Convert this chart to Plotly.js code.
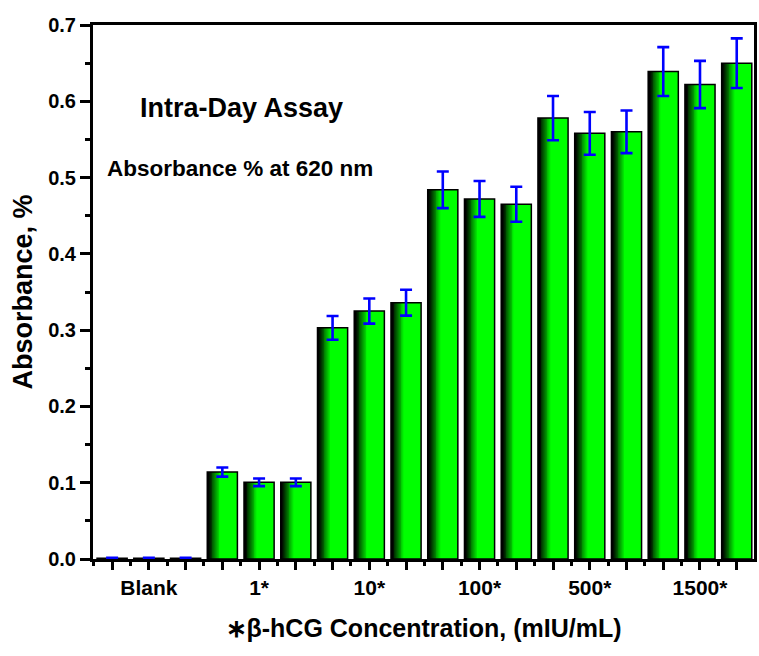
<!DOCTYPE html>
<html>
<head>
<meta charset="utf-8">
<script src="https://cdn.plot.ly/plotly-3.0.1.min.js"></script>
<style>html,body{margin:0;padding:0;background:#fff;}#chart{width:759px;height:656px;}</style>
</head>
<body>
<div id="chart"></div>
<script>
// ---- data ----
const barIndex = [0,1,2,3,4,5,6,7,8,9,10,11,12,13,14,15,16,17];
const groupLabels = ['Blank','1*','10*','100*','500*','1500*'];
const tickText = ['', 'Blank', '', '', '1*', '', '', '10*', '', '', '100*', '', '', '500*', '', '', '1500*', ''];
const absorbance = [0.001,0.001,0.001, 0.114,0.1005,0.1005, 0.303,0.325,0.336, 0.484,0.472,0.465, 0.578,0.558,0.560, 0.639,0.622,0.650];
const absErr = [0.0005,0.0005,0.0005, 0.006,0.005,0.005, 0.0155,0.0165,0.017, 0.024,0.0235,0.023, 0.029,0.028,0.028, 0.032,0.031,0.0325];

// ---- styles ----
const FONT = 'Arial, "Liberation Sans", Helvetica, sans-serif';
const W = 0.82;          // bar width (axis units)
const GRAD_FRAC = 0.46;  // fraction of bar width with black->green gradient
const NS = 16;           // gradient slices

const traces = [];
// base green bar
traces.push({
  type: 'bar', x: barIndex, y: absorbance, width: W,
  marker: {color: '#00ff00', line: {width: 0}},
  hoverinfo: 'skip', showlegend: false
});
// gradient slices (left part of each bar)
const sw = W * GRAD_FRAC / NS;
for (let i = 0; i < NS; i++) {
  const p = (i + 0.5) / NS * GRAD_FRAC;          // position across bar
  let g = (p - 0.05) / 0.38; g = Math.max(0, Math.min(1, g));
  const col = 'rgb(0,' + Math.round(255 * g) + ',0)';
  traces.push({
    type: 'bar', x: barIndex, y: absorbance,
    width: sw * 1.35, offset: -W / 2 + i * sw,
    marker: {color: col, line: {width: 0}},
    hoverinfo: 'skip', showlegend: false
  });
}
// outline + error bars
traces.push({
  type: 'bar', x: barIndex, y: absorbance, width: W,
  marker: {color: 'rgba(0,0,0,0)', line: {color: '#000', width: 1.5}},
  error_y: {type: 'data', array: absErr, visible: true, color: '#0000ff', thickness: 2.6, width: 6},
  showlegend: false
});

const layout = {
  width: 759, height: 656,
  margin: {l: 93, r: 5, t: 25, b: 97},
  paper_bgcolor: '#fff', plot_bgcolor: '#fff',
  barmode: 'overlay',
  bargap: 0,
  font: {family: FONT, color: '#000', weight: 'bold'},
  xaxis: {
    range: [-0.52, 17.47],
    tickmode: 'array', tickvals: barIndex, ticktext: tickText,
    ticks: 'outside', ticklen: 8, tickwidth: 3, tickcolor: '#000',
    minor: {tickmode: 'linear', tick0: 0.5, dtick: 1, ticks: 'outside', ticklen: 4, tickwidth: 3, tickcolor: '#000'},
    tickfont: {family: FONT, size: 21, color: '#000', weight: 'bold'},
    showline: true, linecolor: '#000', linewidth: 3, mirror: true,
    showgrid: false, zeroline: false, fixedrange: true,
    title: {text: '\u2217\u03b2-hCG Concentration, (mIU/mL)', font: {family: FONT, size: 25, color: '#000', weight: 'bold'}, standoff: 22}
  },
  yaxis: {
    range: [0, 0.7], tickmode: 'linear', tick0: 0, dtick: 0.1, tickformat: '.1f',
    ticks: 'outside', ticklen: 10, tickwidth: 3, tickcolor: '#000',
    minor: {dtick: 0.05, ticks: 'outside', ticklen: 5, tickwidth: 3, tickcolor: '#000'},
    tickfont: {family: FONT, size: 20, color: '#000', weight: 'bold'},
    showline: true, linecolor: '#000', linewidth: 3, mirror: true,
    showgrid: false, zeroline: false, fixedrange: true,
    title: {text: 'Absorbance, %', font: {family: FONT, size: 27, color: '#000', weight: 'bold'}, standoff: 8}
  },
  annotations: [
    {text: 'Intra-Day Assay', xref: 'paper', yref: 'paper', x: 0.224, y: 0.845,
     xanchor: 'center', yanchor: 'middle', showarrow: false,
     font: {family: FONT, size: 27, color: '#000', weight: 'bold'}},
    {text: 'Absorbance % at 620 nm', xref: 'paper', yref: 'paper', x: 0.223, y: 0.732,
     xanchor: 'center', yanchor: 'middle', showarrow: false,
     font: {family: FONT, size: 22.5, color: '#000', weight: 'bold'}}
  ]
};

Plotly.newPlot('chart', traces, layout, {staticPlot: true, displayModeBar: false});
</script>
</body>
</html>
